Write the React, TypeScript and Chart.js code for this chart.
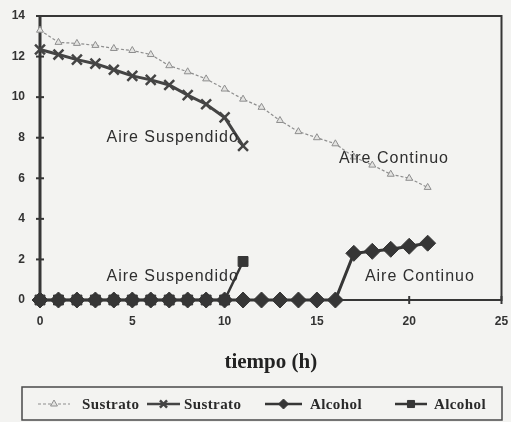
import React, { useEffect, useRef } from 'react';
import { Chart, registerables } from 'chart.js';
import { drawPoint } from 'chart.js/helpers';

Chart.register(...registerables);

// ---- Data ----
const hoursSustratoContinuo = [0, 1, 2, 3, 4, 5, 6, 7, 8, 9, 10, 11, 12, 13, 14, 15, 16, 17, 18, 19, 20, 21];
const sustratoContinuo = [13.3, 12.7, 12.65, 12.55, 12.4, 12.3, 12.1, 11.55, 11.25, 10.9, 10.4, 9.9, 9.5, 8.85, 8.3, 8.0, 7.7, 7.05, 6.65, 6.2, 6.0, 5.55];

const hoursSustratoSuspendido = [0, 1, 2, 3, 4, 5, 6, 7, 8, 9, 10, 11];
const sustratoSuspendido = [12.35, 12.1, 11.85, 11.65, 11.35, 11.05, 10.85, 10.6, 10.1, 9.65, 9.0, 7.6];

const hoursAlcoholContinuo = [0, 1, 2, 3, 4, 5, 6, 7, 8, 9, 10, 11, 12, 13, 14, 15, 16, 17, 18, 19, 20, 21];
const alcoholContinuo = [0, 0, 0, 0, 0, 0, 0, 0, 0, 0, 0, 0, 0, 0, 0, 0, 0, 2.3, 2.4, 2.5, 2.65, 2.8];

const hoursAlcoholSuspendido = [0, 1, 2, 3, 4, 5, 6, 7, 8, 9, 10, 11];
const alcoholSuspendido = [0, 0, 0, 0, 0, 0, 0, 0, 0, 0, 0, 1.9];

const xTicks = [0, 5, 10, 15, 20, 25];
const yTicks = [0, 2, 4, 6, 8, 10, 12, 14];

const legendLabels = ['Sustrato', 'Sustrato', 'Alcohol', 'Alcohol'];
// dataset index shown by each legend entry, in legend order
const legendOrder = [0, 1, 3, 2];

const annotations = [
  { text: 'Aire Suspendido', x: 3.6, y: 8.0 },
  { text: 'Aire Continuo', x: 16.2, y: 6.95 },
  { text: 'Aire Suspendido', x: 3.6, y: 1.15 },
  { text: 'Aire Continuo', x: 17.6, y: 1.15 },
];

const toPoints = (xs: number[], ys: number[]) => xs.map((x, i) => ({ x, y: ys[i] }));

const DARK = '#363636';
const LIGHT = '#8e8e8e';

const customPlugin = {
  id: 'scanDecor',
  beforeDatasetsDraw(chart: any) {
    const { ctx, chartArea } = chart;
    const { left, right, top, bottom } = chartArea;
    const xs = chart.scales.x;
    const ys = chart.scales.y;
    ctx.save();
    ctx.strokeStyle = DARK;
    ctx.lineWidth = 2;
    ctx.beginPath();
    ctx.moveTo(left, top);
    ctx.lineTo(right, top);
    ctx.lineTo(right, bottom);
    ctx.lineTo(left, bottom);
    ctx.stroke();
    ctx.lineWidth = 3;
    ctx.beginPath();
    ctx.moveTo(left, top);
    ctx.lineTo(left, bottom);
    ctx.stroke();
    ctx.lineWidth = 2;
    yTicks.forEach((v) => {
      const py = ys.getPixelForValue(v);
      ctx.beginPath();
      ctx.moveTo(left - 4, py);
      ctx.lineTo(left + 4, py);
      ctx.stroke();
    });
    xTicks.forEach((v) => {
      const px = xs.getPixelForValue(v);
      ctx.beginPath();
      ctx.moveTo(px, bottom - 4);
      ctx.lineTo(px, bottom + 4);
      ctx.stroke();
    });
    ctx.restore();
  },
  afterDatasetsDraw(chart: any) {
    const { ctx } = chart;
    const xs = chart.scales.x;
    const ys = chart.scales.y;
    ctx.save();
    ctx.fillStyle = '#2e2e2e';
    ctx.font = '16px "Liberation Sans", Arial, sans-serif';
    (ctx as any).letterSpacing = '1px';
    ctx.textAlign = 'left';
    ctx.textBaseline = 'middle';
    annotations.forEach((a) => {
      ctx.fillText(a.text, xs.getPixelForValue(a.x), ys.getPixelForValue(a.y));
    });
    (ctx as any).letterSpacing = '0px';

    // legend box
    const boxL = 22, boxT = 387, boxW = 480, boxH = 33;
    ctx.strokeStyle = '#4a4a4a';
    ctx.lineWidth = 1.5;
    ctx.strokeRect(boxL, boxT, boxW, boxH);
    const items = [
      { x1: 38, x2: 70, text: 82 },
      { x1: 147, x2: 180, text: 184 },
      { x1: 265, x2: 302, text: 310 },
      { x1: 395, x2: 427, text: 434 },
    ];
    const cy = 404;
    legendOrder.forEach((dsIndex: number, i: number) => {
      const ds: any = chart.data.datasets[dsIndex];
      const it = items[i];
      ctx.save();
      ctx.strokeStyle = ds.borderColor;
      ctx.lineWidth = Math.min(ds.borderWidth, 2.5);
      ctx.setLineDash(ds.borderDash || []);
      ctx.beginPath();
      ctx.moveTo(it.x1, cy);
      ctx.lineTo(it.x2, cy);
      ctx.stroke();
      ctx.setLineDash([]);
      ctx.fillStyle = ds.pointBackgroundColor;
      ctx.strokeStyle = ds.pointBorderColor;
      ctx.lineWidth = ds.pointBorderWidth;
      drawPoint(
        ctx,
        {
          pointStyle: ds.pointStyle,
          radius: Math.min(ds.pointRadius, 5),
          borderWidth: ds.pointBorderWidth,
          rotation: 0,
        } as any,
        (it.x1 + it.x2) / 2,
        cy
      );
      ctx.restore();
      ctx.fillStyle = '#2a2a2a';
      ctx.font = 'bold 15px "Liberation Serif", "Times New Roman", serif';
      (ctx as any).letterSpacing = '0.4px';
      ctx.textAlign = 'left';
      ctx.textBaseline = 'middle';
      ctx.fillText(legendLabels[i], it.text, cy + 1);
      (ctx as any).letterSpacing = '0px';
    });
    ctx.restore();
  },
};

export default function App() {
  const canvasRef = useRef<HTMLCanvasElement | null>(null);

  useEffect(() => {
    const canvas = canvasRef.current;
    if (!canvas) return;
    const chart = new Chart(canvas, {
      type: 'line',
      data: {
        datasets: [
          {
            label: 'Sustrato',
            data: toPoints(hoursSustratoContinuo, sustratoContinuo),
            borderColor: LIGHT,
            backgroundColor: '#d8d8d8',
            borderWidth: 1.2,
            borderDash: [3, 2],
            pointStyle: 'triangle',
            pointRadius: 4,
            pointBorderWidth: 1,
            pointBorderColor: LIGHT,
            pointBackgroundColor: '#e4e4e2',
            tension: 0,
            clip: false,
          },
          {
            label: 'Sustrato',
            data: toPoints(hoursSustratoSuspendido, sustratoSuspendido),
            borderColor: '#444444',
            backgroundColor: '#444444',
            borderWidth: 3,
            pointStyle: 'crossRot',
            pointRadius: 7,
            pointBorderWidth: 2.5,
            pointBorderColor: '#444444',
            pointBackgroundColor: '#444444',
            tension: 0,
            clip: false,
          },
          {
            label: 'Alcohol',
            data: toPoints(hoursAlcoholSuspendido, alcoholSuspendido),
            borderColor: DARK,
            backgroundColor: DARK,
            borderWidth: 2.5,
            pointStyle: 'rect',
            pointRadius: 7,
            pointBorderWidth: 1,
            pointBorderColor: DARK,
            pointBackgroundColor: DARK,
            tension: 0,
            clip: false,
          },
          {
            label: 'Alcohol',
            data: toPoints(hoursAlcoholContinuo, alcoholContinuo),
            borderColor: DARK,
            backgroundColor: DARK,
            borderWidth: 3,
            pointStyle: 'rectRot',
            pointRadius: 8,
            pointBorderWidth: 1,
            pointBorderColor: DARK,
            pointBackgroundColor: DARK,
            tension: 0,
            clip: false,
          },
        ],
      },
      options: {
        animation: false,
        responsive: false,
        maintainAspectRatio: false,
        layout: { padding: { left: 0, right: 4, top: 16, bottom: 42 } },
        plugins: {
          legend: { display: false },
          tooltip: { enabled: false },
        },
        scales: {
          x: {
            type: 'linear',
            min: 0,
            max: 25,
            afterBuildTicks: (scale: any) => {
              scale.ticks = xTicks.map((v) => ({ value: v }));
            },
            afterFit: (scale: any) => {
              scale.height = 80;
              scale.paddingLeft = 0;
              scale.paddingRight = 0;
            },
            grid: { display: false, drawTicks: false },
            border: { display: false },
            ticks: {
              padding: 14,
              color: '#333333',
              font: { family: '"Liberation Sans", Arial, sans-serif', size: 12, weight: 'bold' },
              maxRotation: 0,
            },
            title: {
              display: true,
              text: 'tiempo (h)',
              color: '#222222',
              font: { family: '"Liberation Serif", "Times New Roman", serif', size: 21, weight: 'bold' },
              padding: { top: 0, bottom: 5 },
            },
          },
          y: {
            type: 'linear',
            min: 0,
            max: 14,
            afterBuildTicks: (scale: any) => {
              scale.ticks = yTicks.map((v) => ({ value: v }));
            },
            afterFit: (scale: any) => {
              scale.width = 40;
              scale.paddingTop = 0;
              scale.paddingBottom = 0;
            },
            grid: { display: false, drawTicks: false },
            border: { display: false },
            ticks: {
              padding: 15,
              color: '#333333',
              font: { family: '"Liberation Sans", Arial, sans-serif', size: 12, weight: 'bold' },
            },
          },
        },
      },
      plugins: [customPlugin],
    } as any);
    return () => chart.destroy();
  }, []);

  return (
    <div
      style={{
        position: 'fixed',
        left: 0,
        top: 0,
        width: 511,
        height: 422,
        background: '#f3f3f1',
      }}
    >
      <canvas ref={canvasRef} width={511} height={422} style={{ width: 511, height: 422, display: 'block' }} />
    </div>
  );
}
